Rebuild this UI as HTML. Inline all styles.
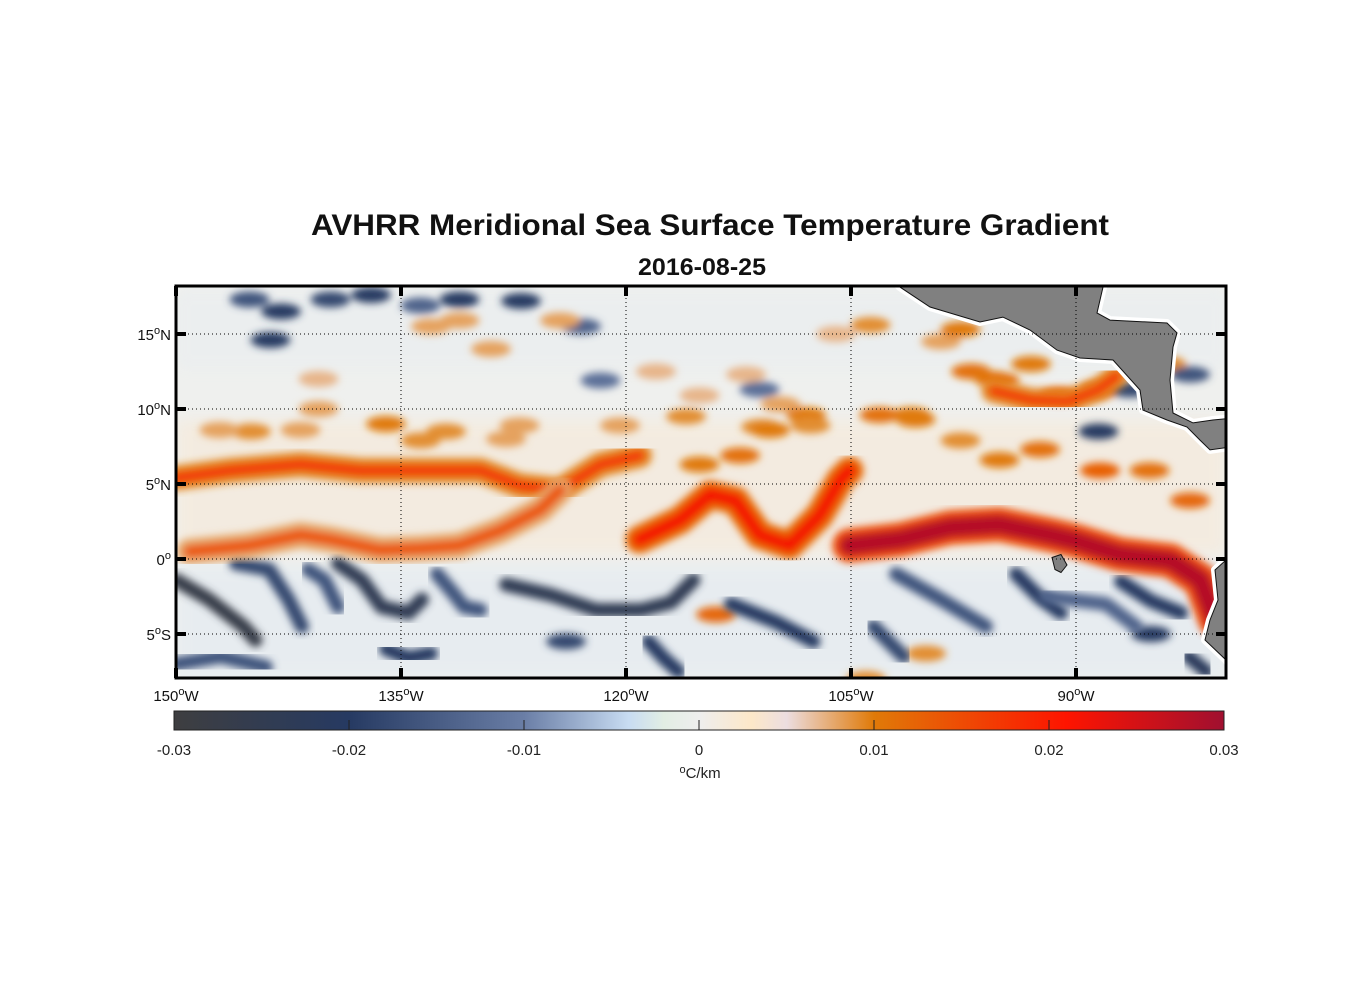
<!DOCTYPE html>
<html><head><meta charset="utf-8">
<style>
body{margin:0;background:#fff;width:1356px;height:1000px;overflow:hidden;font-family:"Liberation Sans",Arial,sans-serif}
svg text{font-family:"Liberation Sans",Arial,sans-serif}
</style></head>
<body>
<svg id="chart" width="1356" height="1000" viewBox="0 0 1356 1000" xmlns="http://www.w3.org/2000/svg">
<defs>
<clipPath id="mapclip"><rect x="176" y="286" width="1050" height="392"/></clipPath>
<filter id="blur" x="-20%" y="-20%" width="140%" height="140%"><feGaussianBlur stdDeviation="4"/></filter>
<filter id="blur2" x="-20%" y="-20%" width="140%" height="140%"><feGaussianBlur stdDeviation="7"/></filter>
<linearGradient id="cbgrad" x1="0" x2="1" y1="0" y2="0"></linearGradient>
</defs>
<text x="710" y="235" text-anchor="middle" font-size="30" font-weight="bold" fill="#111" textLength="798" lengthAdjust="spacingAndGlyphs">AVHRR Meridional Sea Surface Temperature Gradient</text>
<text x="702" y="275" text-anchor="middle" font-size="24" font-weight="bold" fill="#111" textLength="128" lengthAdjust="spacingAndGlyphs">2016-08-25</text>
<g id="map" clip-path="url(#mapclip)"></g>
<g id="axes"></g>
<g id="cbar"></g>
</svg>
<script>
// ---- data ----
const lonTicks=[-150,-135,-120,-105,-90];
const lonLabels=["150","135","120","105","90"];
const latTicks=[15,10,5,0,-5];
const latLabels=["15","10","5","0","5"];
const latHemi=["N","N","N","",'S'];
const cbTicks=[-0.03,-0.02,-0.01,0,0.01,0.02,0.03];
const cbLabels=["-0.03","-0.02","-0.01","0","0.01","0.02","0.03"];
const cmapVals=[-0.03,-0.02,-0.01,-0.004,-0.002,0,0.003,0.005,0.01,0.021,0.03];
const cmapCols=["#3e3e40","#263a62","#6a7ea6","#c8dcf2","#e2eee4","#eeeeee","#fde8c8","#ecdde0","#e07a08","#fe1400","#a01030"];
// fronts
const frontNorthLon=[-150,-146.4,-141.7,-137.7,-133.7,-129.7,-127.1,-124.4,-121.7,-119.1];
const frontNorthLat=[5.4,5.9,6.3,5.9,5.9,5.9,4.9,4.6,6.3,6.9];
const frontNorthVal=0.017;
const frontSouthLon=[-149.1,-145.1,-141.7,-139.7,-136.4,-133.7,-131.1,-128.4,-125.7,-124.4];
const frontSouthLat=[0.5,0.9,1.6,1.3,0.6,0.7,0.9,1.9,3.3,4.6];
const frontSouthVal=0.014;
const frontCentralLon=[-119.1,-116.4,-114.4,-112.7,-111.1,-109.1,-107.1,-105.7,-105.1];
const frontCentralLat=[1.3,2.6,4.3,3.9,1.6,0.9,2.9,5.3,5.9];
const frontCentralVal=0.022;
const frontEastLon=[-105.1,-101.7,-98.4,-95.1,-91.7,-90,-87.1,-83.7,-81.7,-80.7];
const frontEastLat=[0.9,1.3,2.1,2.3,1.6,1.2,0.3,-0.1,-1.4,-4.1];
const frontEastVal=0.028;
const frontCoastLon=[-95.5,-93,-90.5,-88.5,-87.3];
const frontCoastLat=[11.2,10.6,10.5,11.3,12.2];
const frontCoastVal=0.017;
const blueLons=[[-150,-147.8,-145.5,-144.7],[-146,-143.8,-142.5,-141.6],[-141.2,-140.1,-139.2],[-139.2,-137.6,-136.3,-134.5,-133.6],[-132.6,-131.5,-130.8,-129.7],[-128,-125,-122,-119,-117,-115.5],[-150,-147,-144],[-136,-134.5,-133],[-118.5,-117.5,-116.5],[-113,-110,-107.5],[-102,-99,-96],[-94,-92.5,-91],[-87,-85,-83],[-103.5,-101.5],[-92,-88,-86],[-82.5,-81.3]];
const blueLats=[[-1.4,-2.7,-4.5,-5.4],[-0.3,-0.7,-2.7,-4.5],[-0.7,-1.4,-3.2],[-0.3,-1.4,-3.2,-3.6,-2.7],[-1,-2.3,-3.2,-3.4],[-1.7,-2.4,-3.4,-3.4,-2.9,-1.4],[-7,-6.5,-7.2],[-6,-6.6,-6.3],[-5.5,-6.6,-7.5],[-3,-4.2,-5.5],[-1,-2.7,-4.5],[-1,-2.5,-3.6],[-1.5,-2.8,-3.6],[-4.5,-6.5],[-2.5,-3,-4.5],[-6.5,-7.5]];
const blueVals=[-0.027,-0.018,-0.016,-0.024,-0.016,-0.024,-0.016,-0.02,-0.02,-0.02,-0.016,-0.02,-0.02,-0.018,-0.014,-0.022];
const blobLon=[-145,-140.5,-136,-132,-128,-116,-111,-108,-101,-97,-93,-84,-140.5,-133,-129,-118,-112,-106,-99,-95.5,-143,-137,-127,-123,-88.5,-104,-100,-124,-114,-85,
 -115.1,-112.4,-110.4,-107.7,-103.1,-100.7,-97.7,-95.1,-92.4,-88.4,-85.1,-82.4,-95.1,-91.1,-88.4,-131.1,-124.4,-103.7,-97.7,-141.7,-133.7,-127.1,-120.4,-115.1,-109.7,-147.1,
 -145.1,-143.7,-139.7,-133.7,-131.1,-121.7,-111.1,-86.4,-82.4];
const blobLat=[8.5,10,9,8.5,8,9.5,8.8,9.6,9.6,12.5,13,13,12,15.5,14,12.5,12.3,15,14.5,12,16.5,17.6,17.2,15.5,8.5,-8,-6.3,-5.5,-3.7,-5,
 6.3,6.9,8.6,8.9,9.6,9.3,7.9,6.6,7.3,5.9,5.9,3.9,11.9,10.9,11.3,15.9,15.9,15.6,15.3,8.6,7.9,8.9,8.9,10.9,10.3,8.6,
 17.3,14.6,17.3,16.9,17.3,11.9,11.3,11.3,12.3];
const blobVal=[0.009,0.008,0.01,0.009,0.008,0.009,0.009,0.01,0.01,0.011,0.01,0.009,0.007,0.008,0.008,0.007,0.007,0.007,0.008,0.01,-0.02,-0.02,-0.02,-0.014,-0.02,0.009,0.009,-0.018,0.012,-0.02,
 0.01,0.011,0.01,0.009,0.011,0.01,0.009,0.01,0.011,0.013,0.011,0.012,0.011,0.013,0.012,0.008,0.008,0.009,0.01,0.008,0.009,0.008,0.008,0.007,0.008,0.008,
 -0.016,-0.02,-0.018,-0.014,-0.02,-0.012,-0.012,-0.018,-0.016];
// land (lon, lat)
const landCALon=[-102.5,-101.73,-99.73,-96.4,-94.87,-93.07,-91.27,-89.73,-87.53,-85.73,-85.53,-83.93,-82.6,-81.73,-81.07,-79.5,-79.5,-80.87,-82.2,-83.53,-83.73,-83.53,-83.27,-83.93,-87.73,-88.6,-88.2,-88.2];
const landCALat=[19,18.13,16.8,15.8,16.13,15.27,13.93,13.4,13.27,11.27,9.93,9.27,8.8,7.93,7.27,7.5,9.4,9.27,9.07,9.73,11.93,14.13,15.07,15.73,15.93,16.4,18.13,19];
const landSALon=[-79,-80,-80.73,-80.53,-81.07,-81.4,-80,-79];
const landSALat=[0.3,-0.07,-0.73,-2.73,-4.07,-5.4,-6.73,-8];
</script>
<script>
const svg=document.getElementById('chart');
const NS='http://www.w3.org/2000/svg';
const X=lon=>176+(lon+150)*15;
const Y=lat=>559-lat*15;
function hex(c){return [1,3,5].map(i=>parseInt(c.substr(i,2),16));}
function cmap(v){
  if(v<=cmapVals[0])return cmapCols[0];
  for(let i=1;i<cmapVals.length;i++){
    if(v<=cmapVals[i]){const t=(v-cmapVals[i-1])/(cmapVals[i]-cmapVals[i-1]);
      const a=hex(cmapCols[i-1]),b=hex(cmapCols[i]);
      return 'rgb('+a.map((x,k)=>Math.round(x+(b[k]-x)*t)).join(',')+')';}
  }
  return cmapCols[cmapCols.length-1];
}
function el(tag,attrs,parent){const e=document.createElementNS(NS,tag);for(const k in attrs)e.setAttribute(k,attrs[k]);parent.appendChild(e);return e;}
function pts(lons,lats){return lons.map((l,i)=>X(l).toFixed(1)+','+Y(lats[i]).toFixed(1)).join(' ');}
const map=document.getElementById('map');
const bg=el('rect',{x:176,y:286,width:1050,height:392,fill:'#eff0ee'},map);


const haze=el('g',{filter:'url(#blur2)',opacity:0.4},map);
el('rect',{x:176,y:420,width:1050,height:135,fill:'#fbe6cc'},haze);
el('rect',{x:176,y:565,width:1050,height:113,fill:'#dde8f3'},haze);
el('rect',{x:176,y:290,width:1050,height:80,fill:'#e6ecf1'},haze);
const bl=el('g',{filter:'url(#blur)'},map);
blobLon.forEach((l,i)=>{
  const c=el('ellipse',{cx:X(l),cy:Y(blobLat[i]),rx:20,ry:8,fill:cmap(blobVal[i])},bl);
  
  
});
blueLons.forEach((lons,i)=>{
  const p=el('polyline',{points:pts(lons,blueLats[i]),fill:'none',stroke:cmap(blueVals[i]),'stroke-width':14,'stroke-linecap':'round','stroke-linejoin':'round',filter:'url(#blur)'},map);
  
  
});
function front(lons,lats,v,w,name){
  const g=el('g',{filter:'url(#blur)'},map);
  
  
  el('polyline',{points:pts(lons,lats),fill:'none',stroke:cmap(v*0.55),'stroke-width':w+14,'stroke-linecap':'round','stroke-linejoin':'round'},g);
  el('polyline',{points:pts(lons,lats),fill:'none',stroke:cmap(v),'stroke-width':w,'stroke-linecap':'round','stroke-linejoin':'round'},g);
}
front(frontNorthLon,frontNorthLat,frontNorthVal,11,'north-front');
front(frontSouthLon,frontSouthLat,frontSouthVal,12,'south-front');
front(frontCentralLon,frontCentralLat,frontCentralVal,14,'central-front');
front(frontEastLon,frontEastLat,frontEastVal,20,'east-front');
front(frontCoastLon,frontCoastLat,frontCoastVal,10,'coastal-front');
[[landCALon,landCALat,'central-america-land'],[landSALon.concat([-70,-70]),landSALat.concat([-8,0.3]),'south-america-land']].forEach(([lo,la,n])=>{
  el('polygon',{points:pts(lo,la),fill:'#fff',stroke:'#fff','stroke-width':8,'stroke-linejoin':'round'},map);
  const p=el('polygon',{points:pts(lo,la),fill:'#808080',stroke:'#111','stroke-width':1},map);
  
  
});
const gal=el('polygon',{points:pts([-91.6,-91,-90.6,-91,-91.4],[0.1,0.3,-0.4,-0.9,-0.7]),fill:'#808080',stroke:'#111','stroke-width':1},map);


const ax=document.getElementById('axes');
lonTicks.forEach((l,i)=>{
  const x=X(l);
  if(i>0)el('line',{x1:x,x2:x,y1:286,y2:678,stroke:'#000','stroke-width':1,'stroke-dasharray':'1,3'},ax);
  el('line',{x1:x,x2:x,y1:286,y2:296,stroke:'#000','stroke-width':4},ax);
  el('line',{x1:x,x2:x,y1:668,y2:678,stroke:'#000','stroke-width':4},ax);
  const t=el('text',{x:x,y:701,'text-anchor':'middle','font-size':15,fill:'#111'},ax);
  
  
  t.innerHTML=lonLabels[i]+'<tspan dy="-6" font-size="11">o</tspan><tspan dy="6">W</tspan>';
});
latTicks.forEach((l,i)=>{
  const y=Y(l);
  el('line',{x1:176,x2:1226,y1:y,y2:y,stroke:'#000','stroke-width':1,'stroke-dasharray':'1,3'},ax);
  el('line',{x1:176,x2:186,y1:y,y2:y,stroke:'#000','stroke-width':4},ax);
  el('line',{x1:1216,x2:1226,y1:y,y2:y,stroke:'#000','stroke-width':4},ax);
  const t=el('text',{x:171,y:y+6,'text-anchor':'end','font-size':15,fill:'#111'},ax);
  
  
  t.innerHTML=latLabels[i]+'<tspan dy="-6" font-size="11">o</tspan><tspan dy="6">'+latHemi[i]+'</tspan>';
});
const fr=el('rect',{x:176,y:286,width:1050,height:392,fill:'none',stroke:'#000','stroke-width':3},ax);


const cb=document.getElementById('cbar');
const CX=v=>174+(v+0.03)/0.06*1050;
const grad=document.getElementById('cbgrad');
cmapVals.forEach((v,i)=>el('stop',{offset:((v+0.03)/0.06*100)+'%','stop-color':cmapCols[i]},grad));
const cr=el('rect',{x:174,y:711,width:1050,height:19,fill:'url(#cbgrad)',stroke:'#222','stroke-width':1},cb);


cbTicks.forEach((v,i)=>{
  const x=CX(v);
  if(i>0&&i<cbTicks.length-1)el('line',{x1:x,x2:x,y1:720,y2:730,stroke:'#222','stroke-width':1},cb);
  const t=el('text',{x:x,y:755,'text-anchor':'middle','font-size':15,fill:'#222'},cb);
  
  
  t.textContent=cbLabels[i];
});
const u=el('text',{x:700,y:778,'text-anchor':'middle','font-size':15,fill:'#222'},cb);


u.innerHTML='<tspan font-size="11" dy="-5">o</tspan><tspan dy="5">C/km</tspan>';
</script>
</body></html>
